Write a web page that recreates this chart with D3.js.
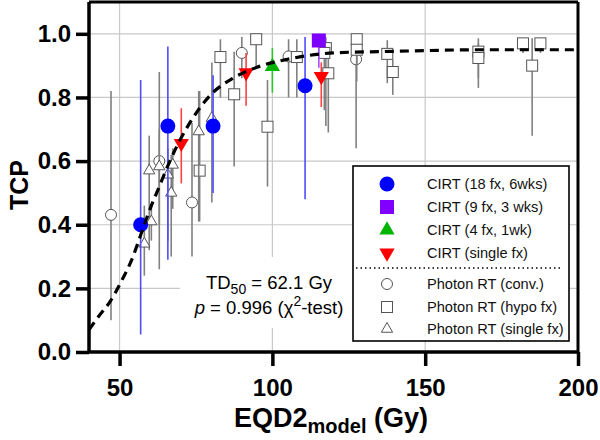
<!DOCTYPE html>
<html>
<head>
<meta charset="utf-8">
<script src="https://cdn.jsdelivr.net/npm/d3@7/dist/d3.min.js"></script>
<style>
  body { margin: 0; background: #fff; }
  text { font-family: Arial, "Liberation Sans", sans-serif; }
</style>
</head>
<body>
<script>
// fitted TCP curve
var curveDose = [40, 43, 47, 51, 54, 57, 60, 63, 66, 70, 75, 80, 87, 95, 105, 120, 140, 170, 200];
var curveTcp  = [0.07, 0.11, 0.16, 0.23, 0.29, 0.37, 0.45, 0.52, 0.59, 0.67, 0.75, 0.81, 0.86, 0.895, 0.92, 0.94, 0.945, 0.95, 0.95];

// CIRT (18 fx, 6wks)
var cirt18Dose = [56.9, 65.8, 80.6, 110.7];
var cirt18Tcp  = [0.40, 0.71, 0.71, 0.837];
var cirt18Lo   = [0.055, 0.29, 0.50, 0.48];
var cirt18Hi   = [0.855, 0.96, 0.87, 0.99];

// CIRT (9 fx, 3 wks)
var cirt9Dose = [115.2];
var cirt9Tcp  = [0.979];
var cirt9Lo   = [0.893];
var cirt9Hi   = [1.0];

// CIRT (4 fx, 1wk)
var cirt4Dose = [100];
var cirt4Tcp  = [0.897];
var cirt4Lo   = [0.815];
var cirt4Hi   = [0.955];

// CIRT (single fx)
var cirt1Dose = [70.2, 91.4, 116];
var cirt1Tcp  = [0.656, 0.878, 0.866];
var cirt1Lo   = [0.53, 0.774, 0.77];
var cirt1Hi   = [0.766, 0.94, 0.91];

// Photon RT (conv.)
var convDose = [47.2, 63, 73.7, 90, 105.3, 127.4];
var convTcp  = [0.431, 0.60, 0.47, 0.94, 0.929, 0.92];
var convLo   = [0.10, 0.26, 0.30, 0.86, 0.80, 0.64];
var convHi   = [0.82, 0.88, 0.72, 0.99, 0.983, 0.98];

// Photon RT (hypo fx)
var hypoDose = [76.2, 83, 87.5, 94.7, 98.4, 108, 117.5, 118.3, 117, 127.6, 127.6, 137.6, 139.4, 167.4, 167.4, 182, 187.7, 185];
var hypoTcp  = [0.57, 0.927, 0.81, 0.983, 0.708, 0.927, 0.955, 0.876, 0.94, 0.983, 0.95, 0.937, 0.88, 0.944, 0.924, 0.97, 0.97, 0.90];
var hypoLo   = [0.41, 0.80, 0.583, 0.89, 0.52, 0.80, 0.71, 0.69, 0.76, 0.90, 0.85, 0.845, 0.808, 0.83, 0.86, 0.94, 0.94, 0.68];
var hypoHi   = [0.82, 0.983, 0.944, 1.0, 0.855, 0.983, 0.99, 0.96, 0.98, 1.0, 0.99, 0.98, 0.918, 0.986, 0.97, 0.98, 0.98, 0.986];

// Photon RT (single fx)
var sfDose = [58.1, 60.4, 59.7, 63, 65.8, 66.9, 67.4, 75.9, 80.2];
var sfTcp  = [0.34, 0.41, 0.57, 0.583, 0.557, 0.50, 0.588, 0.693, 0.735];
var sfLo   = [0.24, 0.35, 0.32, 0.40, 0.35, 0.30, 0.45, 0.41, 0.47];
var sfHi   = [0.46, 0.46, 0.68, 0.70, 0.64, 0.62, 0.64, 0.82, 0.91];

var xTicks = [50, 100, 150, 200];
var yTicks = [0, 0.2, 0.4, 0.6, 0.8, 1.0];
var legendLabels = ["CIRT (18 fx, 6wks)", "CIRT (9 fx, 3 wks)", "CIRT (4 fx, 1wk)", "CIRT (single fx)",
                    "Photon RT (conv.)", "Photon RT (hypo fx)", "Photon RT (single fx)"];

var margin = {left: 89, right: 22, top: 2, bottom: 88};
var width = 600 - margin.left - margin.right;
var height = 440 - margin.top - margin.bottom;

var x = d3.scaleLinear().domain([40, 200]).range([0, width]);
var y = d3.scaleLinear().domain([0, 1.1]).range([height, 0]);

var svg = d3.select("body").append("svg").attr("width", 600).attr("height", 440);
var g = svg.append("g").attr("transform", "translate(" + margin.left + "," + margin.top + ")");

// grid
g.selectAll(".vgrid").data([50, 100, 150]).enter().append("line")
    .attr("x1", function(d){return x(d);}).attr("x2", function(d){return x(d);})
    .attr("y1", 0).attr("y2", height)
    .attr("stroke", "#c8c8c8").attr("stroke-width", 1.2);
g.selectAll(".hgrid").data([0.2, 0.4, 0.6, 0.8, 1.0]).enter().append("line")
    .attr("x1", 0).attr("x2", width)
    .attr("y1", function(d){return y(d);}).attr("y2", function(d){return y(d);})
    .attr("stroke", "#c8c8c8").attr("stroke-width", 1.2);

// white box behind the fit text
g.append("rect").attr("x", 91).attr("y", 255).attr("width", 177).attr("height", 71).attr("fill", "#fff");

// error bars + markers
function series(dose, tcp, lo, hi, barColor) {
    var pts = dose.map(function(d, i){ return {d: d, t: tcp[i], lo: lo[i], hi: hi[i]}; });
    var grp = g.append("g");
    grp.selectAll("line").data(pts).enter().append("line")
        .attr("x1", function(p){return x(p.d);}).attr("x2", function(p){return x(p.d);})
        .attr("y1", function(p){return y(p.lo);}).attr("y2", function(p){return y(p.hi);})
        .attr("stroke", barColor).attr("stroke-width", 1.6);
    return {grp: grp, pts: pts};
}

function circles(s, r, fill, stroke) {
    s.grp.selectAll("circle").data(s.pts).enter().append("circle")
        .attr("cx", function(p){return x(p.d);}).attr("cy", function(p){return y(p.t);})
        .attr("r", r).attr("fill", fill).attr("stroke", stroke).attr("stroke-width", 1);
}
function squares(s, size, fill, stroke) {
    s.grp.selectAll("rect").data(s.pts).enter().append("rect")
        .attr("x", function(p){return x(p.d) - size / 2;}).attr("y", function(p){return y(p.t) - size / 2;})
        .attr("width", size).attr("height", size)
        .attr("fill", fill).attr("stroke", stroke).attr("stroke-width", 1);
}
function triangles(s, area, fill, stroke, down) {
    var sym = d3.symbol().type(d3.symbolTriangle).size(area);
    s.grp.selectAll("path").data(s.pts).enter().append("path")
        .attr("d", sym)
        .attr("transform", function(p){return "translate(" + x(p.d) + "," + y(p.t) + ")" + (down ? " rotate(180)" : "");})
        .attr("fill", fill).attr("stroke", stroke).attr("stroke-width", 1);
}

var sConv = series(convDose, convTcp, convLo, convHi, "#808080");
var sHypo = series(hypoDose, hypoTcp, hypoLo, hypoHi, "#808080");
var sSf = series(sfDose, sfTcp, sfLo, sfHi, "#808080");
var s18 = series(cirt18Dose, cirt18Tcp, cirt18Lo, cirt18Hi, "#4d4dff");
var s9 = series(cirt9Dose, cirt9Tcp, cirt9Lo, cirt9Hi, "#a64dff");
var s4 = series(cirt4Dose, cirt4Tcp, cirt4Lo, cirt4Hi, "#2ec42e");
var s1 = series(cirt1Dose, cirt1Tcp, cirt1Lo, cirt1Hi, "#ff4040");

circles(sConv, 5.5, "#fff", "#555");
squares(sHypo, 11, "#fff", "#555");
triangles(sSf, 55, "#fff", "#555", false);

// fitted curve
var line = d3.line()
    .x(function(d){return x(d[0]);})
    .y(function(d){return y(d[1]);})
    .curve(d3.curveMonotoneX);
g.append("path").attr("d", line(curveDose.map(function(d, i){return [d, curveTcp[i]];})))
    .attr("fill", "none").attr("stroke", "#000").attr("stroke-width", 3.2)
    .attr("stroke-dasharray", "9,6");

circles(s18, 7.5, "#0000ff", "none");
squares(s9, 14, "#7f00ff", "none");
triangles(s4, 100, "#00b400", "none", false);
triangles(s1, 100, "#ff0000", "none", true);

// frame
g.append("line").attr("x1", 0).attr("x2", width).attr("y1", 0).attr("y2", 0).attr("stroke", "#000").attr("stroke-width", 3);
g.append("line").attr("x1", width).attr("x2", width).attr("y1", 0).attr("y2", height).attr("stroke", "#000").attr("stroke-width", 3);

// axes
var xAxis = d3.axisBottom(x).tickValues(xTicks).tickSize(14).tickPadding(13).tickFormat(d3.format("d"));
var yAxis = d3.axisLeft(y).tickValues(yTicks).tickSize(13).tickPadding(5).tickFormat(d3.format(".1f"));
var gx = g.append("g").attr("transform", "translate(0," + height + ")").call(xAxis);
var gy = g.append("g").call(yAxis);
[gx, gy].forEach(function(a){
    a.select(".domain").attr("stroke-width", 3.5).attr("d", a === gx ? "M0,0H" + width : "M0,0V" + height);
    a.selectAll(".tick line").attr("stroke-width", 3.5);
    a.selectAll(".tick text").attr("font-size", 24).attr("font-weight", "bold").attr("fill", "#000")
        .style("font-family", "Arial, 'Liberation Sans', sans-serif");
});

// titles
svg.append("text").attr("transform", "translate(28,185) rotate(-90)").attr("text-anchor", "middle")
    .attr("font-size", 25).attr("font-weight", "bold").text("TCP");
var xt = svg.append("text").attr("x", 331).attr("y", 427).attr("text-anchor", "middle")
    .attr("font-size", 27).attr("font-weight", "bold");
xt.append("tspan").text("EQD2");
xt.append("tspan").attr("font-size", 20).attr("dy", 6).text("model");
xt.append("tspan").attr("dy", -6).text(" (Gy)");

// fit annotation
var t1 = g.append("text").attr("x", 180).attr("y", 287).attr("text-anchor", "middle").attr("font-size", 18.5);
t1.append("tspan").text("TD");
t1.append("tspan").attr("font-size", 14).attr("dy", 5).text("50");
t1.append("tspan").attr("dy", -5).text(" = 62.1 Gy");
var t2 = g.append("text").attr("x", 180).attr("y", 312).attr("text-anchor", "middle").attr("font-size", 18.5);
t2.append("tspan").attr("font-style", "italic").text("p");
t2.append("tspan").text(" = 0.996 (\u03c7");
t2.append("tspan").attr("font-size", 14).attr("dy", -8).text("2");
t2.append("tspan").attr("dy", 8).text("-test)");

// legend
var lg = svg.append("g");
lg.append("rect").attr("x", 353).attr("y", 166).attr("width", 216).attr("height", 175)
    .attr("fill", "#fff").attr("stroke", "#000").attr("stroke-width", 1.6);
var rowY = [184, 207, 230, 253, 284, 307, 329];
lg.append("line").attr("x1", 356).attr("x2", 563).attr("y1", 268).attr("y2", 268)
    .attr("stroke", "#000").attr("stroke-width", 1.3).attr("stroke-dasharray", "1.5,3");
lg.append("circle").attr("cx", 387).attr("cy", rowY[0]).attr("r", 7.5).attr("fill", "#0000ff");
lg.append("rect").attr("x", 380).attr("y", rowY[1] - 7).attr("width", 14).attr("height", 14).attr("fill", "#7f00ff");
lg.append("path").attr("d", d3.symbol().type(d3.symbolTriangle).size(100)).attr("transform", "translate(387," + rowY[2] + ")").attr("fill", "#00b400");
lg.append("path").attr("d", d3.symbol().type(d3.symbolTriangle).size(100)).attr("transform", "translate(387," + rowY[3] + ") rotate(180)").attr("fill", "#ff0000");
lg.append("circle").attr("cx", 387).attr("cy", rowY[4]).attr("r", 5.5).attr("fill", "#fff").attr("stroke", "#555");
lg.append("rect").attr("x", 381.5).attr("y", rowY[5] - 5.5).attr("width", 11).attr("height", 11).attr("fill", "#fff").attr("stroke", "#555");
lg.append("path").attr("d", d3.symbol().type(d3.symbolTriangle).size(55)).attr("transform", "translate(387," + rowY[6] + ")").attr("fill", "#fff").attr("stroke", "#555");
lg.selectAll(".lab").data(legendLabels).enter().append("text")
    .attr("x", 427).attr("y", function(d, i){return rowY[i] + 5;})
    .attr("font-size", 14.6).attr("fill", "#111").text(function(d){return d;});
</script>
</body>
</html>
